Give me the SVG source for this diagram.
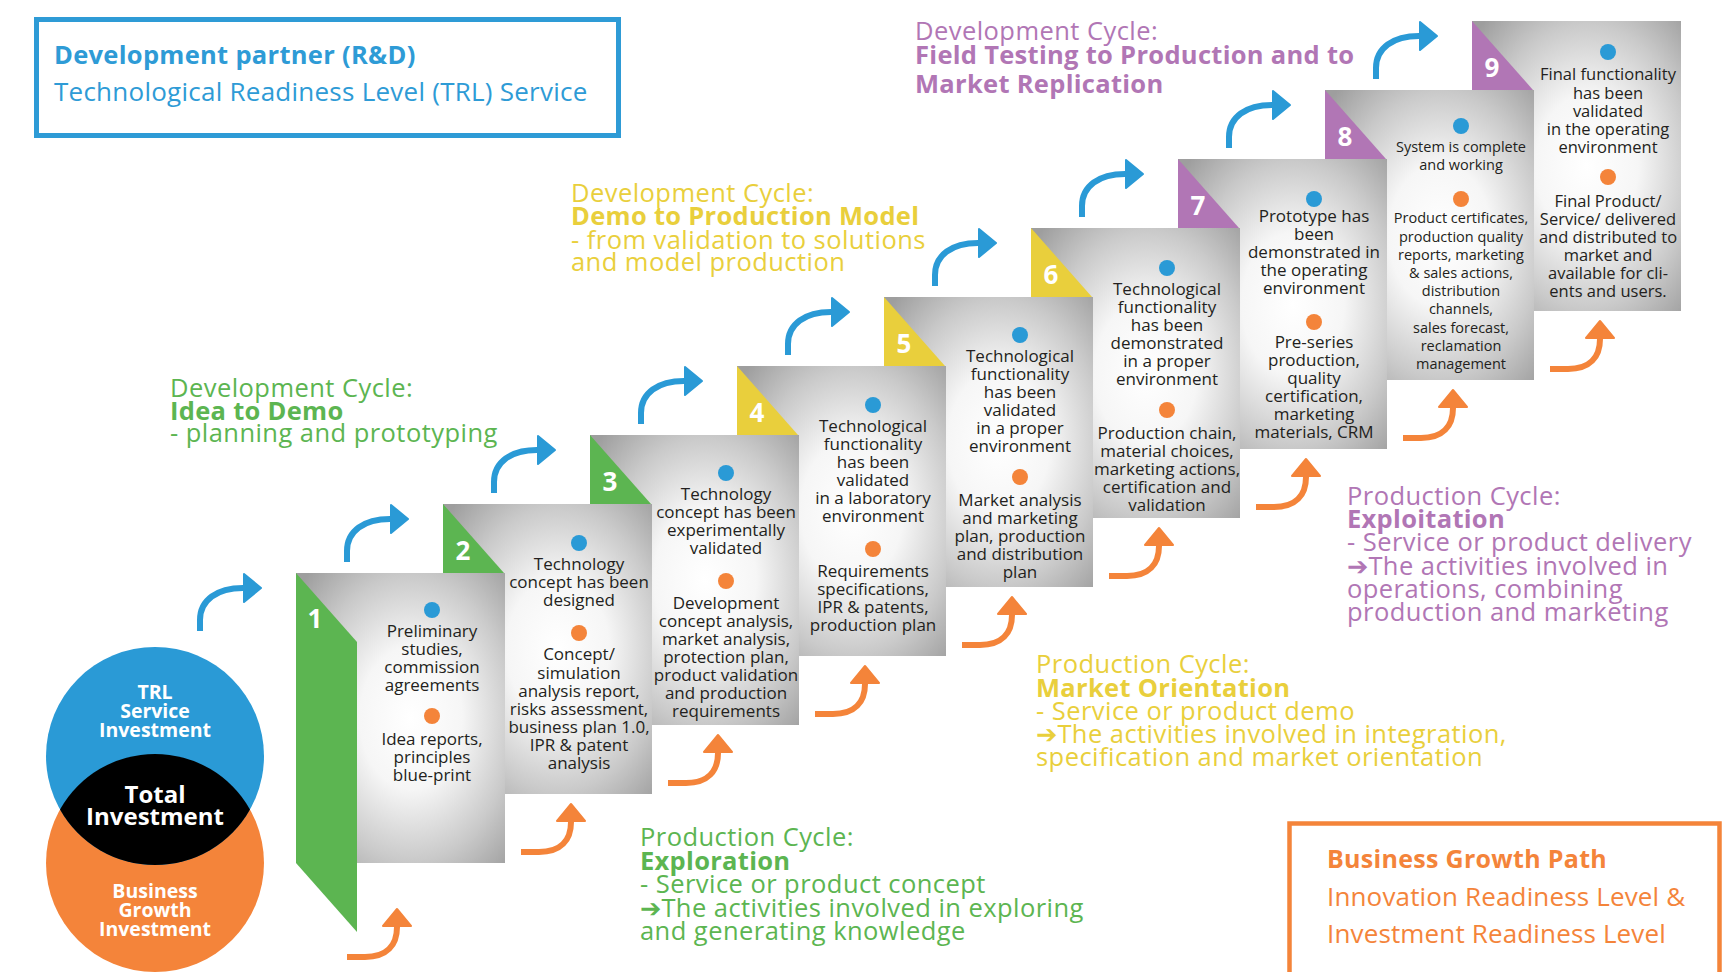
<svg xmlns="http://www.w3.org/2000/svg" width="1736" height="972" viewBox="0 0 1736 972">
<style>
  text { font-family: "Open Sans", "Liberation Sans", sans-serif; }
  .card { fill: url(#cardGrad); }
  .tab-g { fill: #5CB551; }
  .tab-y { fill: #E9CF3C; }
  .tab-p { fill: #B176B5; }
  .num { font-size: 26px; font-weight: bold; fill: #ffffff; text-anchor: middle; }
  .ct { font-size: 17px; fill: #231f20; text-anchor: middle; }
  .ct8 { font-size: 14.5px; fill: #231f20; text-anchor: middle; }
  .ct9 { font-size: 16.5px; fill: #231f20; text-anchor: middle; }
  .dot-b { fill: #2A9AD6; }
  .dot-o { fill: #F4843A; }
  .arr-b { fill: none; stroke: #2A9AD6; stroke-width: 6; marker-end: url(#hb); }
  .arr-o { fill: none; stroke: #F4843A; stroke-width: 6; marker-end: url(#ho); }
  .hd { font-size: 25.5px; letter-spacing: 0.45px; }
  .b { font-weight: bold; letter-spacing: 0.3px; }
  .green { fill: #5CB551; }
  .yellow { fill: #E9CF3C; }
  .purple { fill: #B176B5; }
  .venn { font-size: 19.5px; font-weight: bold; fill: #ffffff; text-anchor: middle; }
  .arrowglyph { font-family: "DejaVu Sans", sans-serif; letter-spacing: 0; }
</style>
<defs>
  <radialGradient id="cardGrad" cx="0.55" cy="0.5" r="0.7" gradientUnits="objectBoundingBox">
    <stop offset="0" stop-color="#ffffff"/>
    <stop offset="0.35" stop-color="#f6f6f6"/>
    <stop offset="0.7" stop-color="#cacaca"/>
    <stop offset="1" stop-color="#9e9e9e"/>
  </radialGradient>
  <marker id="hb" markerUnits="userSpaceOnUse" viewBox="0 0 20 32" markerWidth="20" markerHeight="32" refX="0" refY="16" orient="auto">
    <path d="M1,2 L18,16 L1,30 Z" fill="#2A9AD6" stroke="#2A9AD6" stroke-width="2" stroke-linejoin="round"/>
  </marker>
  <marker id="ho" markerUnits="userSpaceOnUse" viewBox="0 0 20 32" markerWidth="20" markerHeight="32" refX="0" refY="16" orient="auto">
    <path d="M1,2 L18,16 L1,30 Z" fill="#F4843A" stroke="#F4843A" stroke-width="2" stroke-linejoin="round"/>
  </marker>
</defs>

<rect x="0" y="0" width="1736" height="972" fill="#ffffff"/>

<!-- Top-left box -->
<g id="rd-box">
  <rect x="36.5" y="19.5" width="582" height="116" fill="none" stroke="#2E9BD6" stroke-width="5"/>
  <text x="54" y="64" font-size="25.5" font-weight="bold" fill="#2E9BD6" letter-spacing="0.3">Development partner (R&amp;D)</text>
  <text x="54" y="101" font-size="26" fill="#2E9BD6" letter-spacing="0.25">Technological Readiness Level (TRL) Service</text>
</g>

<!-- Bottom-right box -->
<g id="growth-box">
  <path d="M1289.5,990 V823.5 H1719.5 V990" fill="none" stroke="#F4843A" stroke-width="4.5"/>
  <text x="1327" y="868" font-size="25" font-weight="bold" fill="#F4843A" letter-spacing="0.3">Business Growth Path</text>
  <text x="1327" y="906" font-size="26" fill="#F4843A" letter-spacing="0.15">Innovation Readiness Level &amp;</text>
  <text x="1327" y="943" font-size="26" fill="#F4843A" letter-spacing="0.15">Investment Readiness Level</text>
</g>

<!-- Cycle labels -->
<g id="dev-idea-demo">
  <text class="hd green" x="170"><tspan x="170" y="397">Development Cycle:</tspan><tspan class="b" x="170" y="420">Idea to Demo</tspan><tspan x="170" y="442">- planning and prototyping</tspan></text>
</g>
<g id="dev-demo-production">
  <text class="hd yellow" x="571"><tspan x="571" y="202">Development Cycle:</tspan><tspan class="b" x="571" y="225">Demo to Production Model</tspan><tspan x="571" y="249">- from validation to solutions</tspan><tspan x="571" y="271">and model production</tspan></text>
</g>
<g id="dev-field-testing">
  <text class="hd purple" x="915"><tspan x="915" y="40">Development Cycle:</tspan><tspan class="b" x="915" y="64">Field Testing to Production and to</tspan><tspan class="b" x="915" y="93">Market Replication</tspan></text>
</g>
<g id="prod-exploration">
  <text class="hd green" x="640"><tspan x="640" y="846">Production Cycle:</tspan><tspan class="b" x="640" y="870">Exploration</tspan><tspan x="640" y="893">- Service or product concept</tspan><tspan x="640" y="917"><tspan class="arrowglyph">➔</tspan>The activities involved in exploring</tspan><tspan x="640" y="940">and generating knowledge</tspan></text>
</g>
<g id="prod-market-orientation">
  <text class="hd yellow" x="1036"><tspan x="1036" y="673">Production Cycle:</tspan><tspan class="b" x="1036" y="697">Market Orientation</tspan><tspan x="1036" y="720">- Service or product demo</tspan><tspan x="1036" y="743"><tspan class="arrowglyph">➔</tspan>The activities involved in integration,</tspan><tspan x="1036" y="766">specification and market orientation</tspan></text>
</g>
<g id="prod-exploitation">
  <text class="hd purple" x="1347"><tspan x="1347" y="505">Production Cycle:</tspan><tspan class="b" x="1347" y="528">Exploitation</tspan><tspan x="1347" y="551">- Service or product delivery</tspan><tspan x="1347" y="575"><tspan class="arrowglyph">➔</tspan>The activities involved in</tspan><tspan x="1347" y="598">operations, combining</tspan><tspan x="1347" y="621">production and marketing</tspan></text>
</g>

<!-- Venn -->
<g id="business-growth-investment">
  <circle cx="155" cy="863" r="109" fill="#F4843A"/>
</g>
<g id="trl-service-investment">
  <circle cx="155" cy="756" r="109" fill="#2A9AD6"/>
  <text class="venn"><tspan x="155" y="699">TRL</tspan><tspan x="155" y="718">Service</tspan><tspan x="155" y="737">Investment</tspan></text>
</g>
<g id="total-investment">
  <path d="M60,809.5 A109,109 0 0 1 250,809.5 A109,109 0 0 1 60,809.5 Z" fill="#000000"/>
  <text class="venn" style="font-size:24px"><tspan x="155" y="803">Total</tspan><tspan x="155" y="825">Investment</tspan></text>
</g>
<g id="business-text">
  <text class="venn"><tspan x="155" y="898">Business</tspan><tspan x="155" y="917">Growth</tspan><tspan x="155" y="936">Investment</tspan></text>
</g>

<!-- Cards: back to front -->
<g id="trl-9">
  <rect class="card" x="1472" y="21" width="209" height="290"/>
  <polygon class="tab-p" points="1472,21 1472,90 1533,90"/>
  <text class="num" x="1492" y="77">9</text>
  <circle class="dot-b" cx="1608" cy="52" r="8"/>
  <text class="ct9"><tspan x="1608" y="80">Final functionality</tspan><tspan x="1608" y="99">has been</tspan><tspan x="1608" y="117">validated</tspan><tspan x="1608" y="135">in the operating</tspan><tspan x="1608" y="153">environment</tspan></text>
  <circle class="dot-o" cx="1608" cy="177" r="8"/>
  <text class="ct9"><tspan x="1608" y="207">Final Product/</tspan><tspan x="1608" y="225">Service/ delivered</tspan><tspan x="1608" y="243">and distributed to</tspan><tspan x="1608" y="261">market and</tspan><tspan x="1608" y="279">available for cli-</tspan><tspan x="1608" y="297">ents and users.</tspan></text>
</g>
<g id="trl-8">
  <rect class="card" x="1325" y="90" width="209" height="290"/>
  <polygon class="tab-p" points="1325,90 1325,159 1386,159"/>
  <text class="num" x="1345" y="146">8</text>
  <circle class="dot-b" cx="1461" cy="126" r="8"/>
  <text class="ct8"><tspan x="1461" y="152">System is complete</tspan><tspan x="1461" y="170">and working</tspan></text>
  <circle class="dot-o" cx="1461" cy="199" r="8"/>
  <text class="ct8"><tspan x="1461" y="223">Product certificates,</tspan><tspan x="1461" y="242">production quality</tspan><tspan x="1461" y="260">reports, marketing</tspan><tspan x="1461" y="278">&amp; sales actions,</tspan><tspan x="1461" y="296">distribution</tspan><tspan x="1461" y="314">channels,</tspan><tspan x="1461" y="333">sales forecast,</tspan><tspan x="1461" y="351">reclamation</tspan><tspan x="1461" y="369">management</tspan></text>
</g>
<g id="trl-7">
  <rect class="card" x="1178" y="159" width="209" height="290"/>
  <polygon class="tab-p" points="1178,159 1178,228 1239,228"/>
  <text class="num" x="1198" y="215">7</text>
  <circle class="dot-b" cx="1314" cy="199" r="8"/>
  <text class="ct"><tspan x="1314" y="222">Prototype has</tspan><tspan x="1314" y="240">been</tspan><tspan x="1314" y="258">demonstrated in</tspan><tspan x="1314" y="276">the operating</tspan><tspan x="1314" y="294">environment</tspan></text>
  <circle class="dot-o" cx="1314" cy="322" r="8"/>
  <text class="ct"><tspan x="1314" y="348">Pre-series</tspan><tspan x="1314" y="366">production,</tspan><tspan x="1314" y="384">quality</tspan><tspan x="1314" y="402">certification,</tspan><tspan x="1314" y="420">marketing</tspan><tspan x="1314" y="438">materials, CRM</tspan></text>
</g>
<g id="trl-6">
  <rect class="card" x="1031" y="228" width="209" height="290"/>
  <polygon class="tab-y" points="1031,228 1031,297 1092,297"/>
  <text class="num" x="1051" y="284">6</text>
  <circle class="dot-b" cx="1167" cy="268" r="8"/>
  <text class="ct"><tspan x="1167" y="295">Technological</tspan><tspan x="1167" y="313">functionality</tspan><tspan x="1167" y="331">has been</tspan><tspan x="1167" y="349">demonstrated</tspan><tspan x="1167" y="367">in a proper</tspan><tspan x="1167" y="385">environment</tspan></text>
  <circle class="dot-o" cx="1167" cy="410" r="8"/>
  <text class="ct"><tspan x="1167" y="439">Production chain,</tspan><tspan x="1167" y="457">material choices,</tspan><tspan x="1167" y="475">marketing actions,</tspan><tspan x="1167" y="493">certification and</tspan><tspan x="1167" y="511">validation</tspan></text>
</g>
<g id="trl-5">
  <rect class="card" x="884" y="297" width="209" height="290"/>
  <polygon class="tab-y" points="884,297 884,366 945,366"/>
  <text class="num" x="904" y="353">5</text>
  <circle class="dot-b" cx="1020" cy="335" r="8"/>
  <text class="ct"><tspan x="1020" y="362">Technological</tspan><tspan x="1020" y="380">functionality</tspan><tspan x="1020" y="398">has been</tspan><tspan x="1020" y="416">validated</tspan><tspan x="1020" y="434">in a proper</tspan><tspan x="1020" y="452">environment</tspan></text>
  <circle class="dot-o" cx="1020" cy="477" r="8"/>
  <text class="ct"><tspan x="1020" y="506">Market analysis</tspan><tspan x="1020" y="524">and marketing</tspan><tspan x="1020" y="542">plan, production</tspan><tspan x="1020" y="560">and distribution</tspan><tspan x="1020" y="578">plan</tspan></text>
</g>
<g id="trl-4">
  <rect class="card" x="737" y="366" width="209" height="290"/>
  <polygon class="tab-y" points="737,366 737,435 798,435"/>
  <text class="num" x="757" y="422">4</text>
  <circle class="dot-b" cx="873" cy="405" r="8"/>
  <text class="ct"><tspan x="873" y="432">Technological</tspan><tspan x="873" y="450">functionality</tspan><tspan x="873" y="468">has been</tspan><tspan x="873" y="486">validated</tspan><tspan x="873" y="504">in a laboratory</tspan><tspan x="873" y="522">environment</tspan></text>
  <circle class="dot-o" cx="873" cy="549" r="8"/>
  <text class="ct"><tspan x="873" y="577">Requirements</tspan><tspan x="873" y="595">specifications,</tspan><tspan x="873" y="613">IPR &amp; patents,</tspan><tspan x="873" y="631">production plan</tspan></text>
</g>
<g id="trl-3">
  <rect class="card" x="590" y="435" width="209" height="290"/>
  <polygon class="tab-g" points="590,435 590,504 651,504"/>
  <text class="num" x="610" y="491">3</text>
  <circle class="dot-b" cx="726" cy="473" r="8"/>
  <text class="ct"><tspan x="726" y="500">Technology</tspan><tspan x="726" y="518">concept has been</tspan><tspan x="726" y="536">experimentally</tspan><tspan x="726" y="554">validated</tspan></text>
  <circle class="dot-o" cx="726" cy="581" r="8"/>
  <text class="ct"><tspan x="726" y="609">Development</tspan><tspan x="726" y="627">concept analysis,</tspan><tspan x="726" y="645">market analysis,</tspan><tspan x="726" y="663">protection plan,</tspan><tspan x="726" y="681">product validation</tspan><tspan x="726" y="699">and production</tspan><tspan x="726" y="717">requirements</tspan></text>
</g>
<g id="trl-2">
  <rect class="card" x="443" y="504" width="209" height="290"/>
  <polygon class="tab-g" points="443,504 443,573 504,573"/>
  <text class="num" x="463" y="560">2</text>
  <circle class="dot-b" cx="579" cy="543" r="8"/>
  <text class="ct"><tspan x="579" y="570">Technology</tspan><tspan x="579" y="588">concept has been</tspan><tspan x="579" y="606">designed</tspan></text>
  <circle class="dot-o" cx="579" cy="633" r="8"/>
  <text class="ct"><tspan x="579" y="660">Concept/</tspan><tspan x="579" y="679">simulation</tspan><tspan x="579" y="697">analysis report,</tspan><tspan x="579" y="715">risks assessment,</tspan><tspan x="579" y="733">business plan 1.0,</tspan><tspan x="579" y="751">IPR &amp; patent</tspan><tspan x="579" y="769">analysis</tspan></text>
</g>
<g id="trl-1">
  <rect class="card" x="296" y="573" width="209" height="290"/>
  <polygon class="tab-g" points="296,573 357,642 357,932 296,863"/>
  <text class="num" x="315" y="628">1</text>
  <circle class="dot-b" cx="432" cy="610" r="8"/>
  <text class="ct"><tspan x="432" y="637">Preliminary</tspan><tspan x="432" y="655">studies,</tspan><tspan x="432" y="673">commission</tspan><tspan x="432" y="691">agreements</tspan></text>
  <circle class="dot-o" cx="432" cy="716" r="8"/>
  <text class="ct"><tspan x="432" y="745">Idea reports,</tspan><tspan x="432" y="763">principles</tspan><tspan x="432" y="781">blue-print</tspan></text>
</g>

<!-- Connectors -->
<g id="connectors">
  <path class="arr-b" d="M200,631 V620 C200,600 217,588 243,588"/>
  <path class="arr-b" d="M347,562 V551 C347,531 364,519 390,519"/>
  <path class="arr-b" d="M494,493 V482 C494,462 511,450 537,450"/>
  <path class="arr-b" d="M641,424 V413 C641,393 658,381 684,381"/>
  <path class="arr-b" d="M788,355 V344 C788,324 805,312 831,312"/>
  <path class="arr-b" d="M935,286 V275 C935,255 952,243 978,243"/>
  <path class="arr-b" d="M1082,217 V206 C1082,186 1099,174 1125,174"/>
  <path class="arr-b" d="M1229,148 V137 C1229,117 1246,105 1272,105"/>
  <path class="arr-b" d="M1376,79 V68 C1376,48 1393,36 1419,36"/>

  <path class="arr-o" d="M347,957 H365 C387,957 397,945 397,927"/>
  <path class="arr-o" d="M521,852 H539 C561,852 571,840 571,822"/>
  <path class="arr-o" d="M668,783 H686 C708,783 718,771 718,753"/>
  <path class="arr-o" d="M815,714 H833 C855,714 865,702 865,684"/>
  <path class="arr-o" d="M962,645 H980 C1002,645 1012,633 1012,615"/>
  <path class="arr-o" d="M1109,576 H1127 C1149,576 1159,564 1159,546"/>
  <path class="arr-o" d="M1256,507 H1274 C1296,507 1306,495 1306,477"/>
  <path class="arr-o" d="M1403,438 H1421 C1443,438 1453,426 1453,408"/>
  <path class="arr-o" d="M1550,369 H1568 C1590,369 1600,357 1600,339"/>
</g>
</svg>
